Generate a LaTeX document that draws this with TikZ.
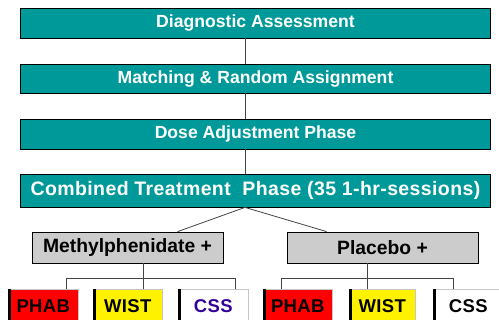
\documentclass[tikz,border=0pt]{standalone}
\usepackage{fontspec}
\setmainfont{Liberation Sans}
\newfontfamily\labC[LetterSpace=2]{Liberation Sans}
\definecolor{teal}{HTML}{009999}
\definecolor{grayfill}{HTML}{CCCCCC}
\definecolor{cssblue}{HTML}{330099}
\definecolor{connc}{HTML}{444444}
\begin{document}
\begin{tikzpicture}[x=1pt,y=-1pt,
  phase/.style={draw=black,line width=0.8pt,fill=teal,text=white,minimum width=470pt,inner sep=0pt,font=\bfseries\fontsize{17.6}{19}\selectfont},
  grp/.style={draw=black,line width=0.8pt,fill=grayfill,minimum width=191pt,minimum height=31pt,inner sep=0pt,font=\bfseries\fontsize{19.3}{21}\selectfont},
  meas/.style={draw=gray!45,line width=0.6pt,minimum height=33pt,inner sep=0pt,anchor=north west,font=\labC\bfseries\fontsize{18.5}{20}\selectfont},
  conn/.style={draw=connc,line width=0.8pt},
  edge/.style={line width=3pt,black}]
\useasboundingbox (0,0) rectangle (499,320);
\clip (0,0) rectangle (499,320);
\fill[white] (0,0) rectangle (499,320);

\node[phase,minimum height=29.5pt] (p1) at (255.5,23.25) {Diagnostic Assessment};
\node[phase,minimum height=29pt] (p2) at (255.5,78.5) {Matching \& Random Assignment};
\node[phase,minimum height=30pt] (p3) at (255.5,134) {Dose Adjustment Phase};
\node[phase,minimum height=33pt,font=\labC\bfseries\fontsize{19.5}{21}\selectfont] (p4) at (255.5,190.5) {Combined Treatment~ Phase (35 1-hr-sessions)};

\draw[conn] ([xshift=-10.5pt]p1.south) -- ([xshift=-10.5pt]p2.north);
\draw[conn] ([xshift=-10.5pt]p2.south) -- ([xshift=-10.5pt]p3.north);
\draw[conn] ([xshift=-10.5pt]p3.south) -- ([xshift=-10.5pt]p4.north);

\node[grp] (g1) at (127.5,247.5) {Methylphenidate +};
\node[grp] (g2) at (382.5,247.5) {Placebo +};

\draw[conn] ([xshift=-10.5pt]p4.south) -- ([xshift=146pt]g1.north west);
\draw[conn] ([xshift=-10.5pt]p4.south) -- ([xshift=40pt]g2.north west);

% measures
\node[meas,fill=red,minimum width=70pt] (l1) at (8,289) {PHAB};
\node[meas,fill=yellow,minimum width=69pt] (l2) at (93,289) {WIST};
\node[meas,fill=white,minimum width=70pt,text=cssblue] (l3) at (178,289) {CSS};
\node[meas,fill=red,minimum width=69pt] (r1) at (263,289) {PHAB};
\node[meas,fill=yellow,minimum width=66pt] (r2) at (349,289) {WIST};
\node[meas,fill=white,minimum width=70pt] (r3) at (433,289) {CSS};
\foreach \n in {l1,l2,l3,r1,r2,r3}{
  \draw[edge] ([xshift=1.5pt]\n.north west) -- ([xshift=1.5pt]\n.south west);
}

\coordinate (lA) at (66,278);
\coordinate (lB) at (143,278);
\coordinate (lC) at (235,278);
\coordinate (rA) at (281,278);
\coordinate (rB) at (367,278);
\coordinate (rC) at (453,278);

\draw[conn] (lB |- g1.south) -- (lB);
\draw[conn] (lA) -- (lC);
\draw[conn] (lA) -- (lA |- l1.north);
\draw[conn] (lB) -- (lB |- l2.north);
\draw[conn] (lC) -- (lC |- l3.north);

\draw[conn] (rB |- g2.south) -- (rB);
\draw[conn] (rA) -- (rC);
\draw[conn] (rA) -- (rA |- r1.north);
\draw[conn] (rB) -- (rB |- r2.north);
\draw[conn] (rC) -- (rC |- r3.north);
\end{tikzpicture}
\end{document}
